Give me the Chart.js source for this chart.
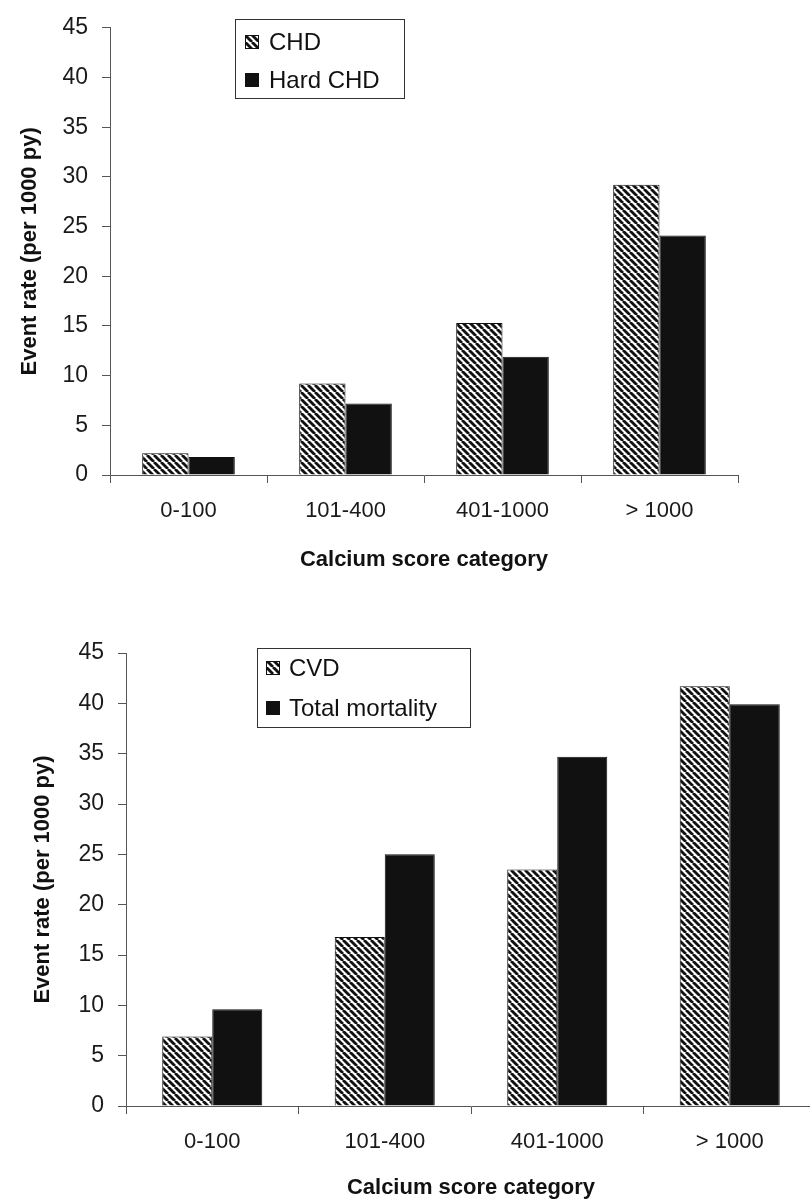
<!DOCTYPE html>
<html>
<head>
<meta charset="utf-8">
<title>Event rate by calcium score category</title>
<script src="https://cdn.jsdelivr.net/npm/chart.js@4.4.1/dist/chart.umd.min.js"></script>
<style>
  html, body { margin: 0; padding: 0; background: #fff; overflow: hidden; }
  #wrap { position: relative; width: 810px; height: 1201px; }
  #topChart { position: absolute; left: 0; top: 0; }
  #bottomChart { position: absolute; left: 0; top: 590px; }
</style>
</head>
<body>
<div id="wrap">
  <canvas id="topChart" width="810" height="590"></canvas>
  <canvas id="bottomChart" width="840" height="611"></canvas>
</div>
<script>
// values (events per 1000 person-years)
const categories = ['0-100', '101-400', '401-1000', '> 1000'];
const chdRates = [2.2, 9.2, 15.3, 29.2];
const hardChdRates = [1.8, 7.2, 11.9, 24.1];
const cvdRates = [6.9, 16.8, 23.5, 41.7];
const totalMortalityRates = [9.6, 25.0, 34.7, 39.9];
const yTicks = [0, 5, 10, 15, 20, 25, 30, 35, 40, 45];

const FONT = "'Liberation Sans', Arial, Helvetica, sans-serif";
Chart.defaults.font.family = FONT;

// diagonal hatch used for the first series of each panel
function makeHatch() {
    const c = document.createElement('canvas');
    c.width = 7;
    c.height = 7;
    const g = c.getContext('2d');
    g.fillStyle = '#fff';
    g.fillRect(0, 0, 7, 7);
    g.strokeStyle = '#111';
    g.lineWidth = 2.8;
    [-7, 0, 7].forEach(function(k) {
        g.beginPath();
        g.moveTo(k, 0);
        g.lineTo(k + 7, 7);
        g.stroke();
    });
    return g.createPattern(c, 'repeat');
}

// boxed legend drawn inside the plot, like the original figure
const boxLegend = {
    id: 'boxLegend',
    afterDraw(chart, args, opts) {
        const ctx = chart.ctx;
        ctx.save();
        ctx.strokeStyle = '#333';
        ctx.lineWidth = 1;
        ctx.strokeRect(opts.x + 0.5, opts.y + 0.5, opts.w, opts.h);
        ctx.font = '24px ' + FONT;
        ctx.textBaseline = 'middle';
        chart.data.datasets.forEach(function(ds, i) {
            const cy = opts.y + opts.firstRow + i * opts.rowGap;
            ctx.fillStyle = ds.backgroundColor;
            ctx.fillRect(opts.x + opts.swatchX, cy - 7, 14, 14);
            ctx.strokeStyle = '#111';
            ctx.strokeRect(opts.x + opts.swatchX + 0.5, cy - 6.5, 13, 13);
            ctx.fillStyle = '#111';
            ctx.fillText(ds.label, opts.x + opts.textX, cy + 1);
        });
        ctx.restore();
    }
};

function createPanel(canvasId, labels, seriesA, labelA, seriesB, labelB, geo) {
    const ctx = document.getElementById(canvasId);
    const hatch = makeHatch();
    return new Chart(ctx, {
        type: 'bar',
        data: {
            labels: labels,
            datasets: [{
                label: labelA,
                data: seriesA,
                backgroundColor: hatch,
                borderColor: '#111',
                borderWidth: 1,
                categoryPercentage: geo.catPct,
                barPercentage: 1
            }, {
                label: labelB,
                data: seriesB,
                backgroundColor: '#111',
                borderColor: '#111',
                borderWidth: 1,
                categoryPercentage: geo.catPct,
                barPercentage: 1
            }]
        },
        options: {
            responsive: false,
            animation: false,
            layout: {
                padding: { top: geo.top, right: geo.right, bottom: 0, left: 0 }
            },
            scales: {
                x: {
                    afterFit: function(scale) { scale.height = geo.xHeight; },
                    grid: {
                        offset: true,
                        drawOnChartArea: false,
                        drawTicks: true,
                        tickLength: 8,
                        color: '#555'
                    },
                    border: { display: true, color: '#555', width: 1 },
                    ticks: {
                        padding: 15,
                        color: '#1a1a1a',
                        font: { size: 22 }
                    },
                    title: {
                        display: true,
                        text: 'Calcium score category',
                        color: '#111',
                        font: { size: 22, weight: 'bold' },
                        padding: { top: 0, bottom: geo.xTitlePad }
                    }
                },
                y: {
                    min: 0,
                    max: 45,
                    afterFit: function(scale) { scale.width = geo.yWidth; },
                    afterBuildTicks: function(scale) {
                        scale.ticks = yTicks.map(function(v) { return { value: v }; });
                    },
                    grid: {
                        drawOnChartArea: false,
                        drawTicks: true,
                        tickLength: 8,
                        color: '#555'
                    },
                    border: { display: true, color: '#555', width: 1 },
                    ticks: {
                        padding: 14,
                        color: '#1a1a1a',
                        font: { size: 23 }
                    },
                    title: {
                        display: true,
                        text: 'Event rate (per 1000 py)',
                        color: '#111',
                        font: { size: 22, weight: 'bold' },
                        padding: { top: geo.yTitlePad, bottom: 0 }
                    }
                }
            },
            plugins: {
                legend: { display: false },
                tooltip: { enabled: false },
                boxLegend: geo.legend
            }
        },
        plugins: [boxLegend]
    });
}

createPanel('topChart', categories, chdRates, 'CHD', hardChdRates, 'Hard CHD', {
    top: 25, right: 72, xHeight: 115, yWidth: 110,
    catPct: 0.59, xTitlePad: 17, yTitlePad: 17,
    legend: { x: 235, y: 19, w: 169, h: 79, firstRow: 23, rowGap: 38, swatchX: 10, textX: 34 }
});

createPanel('bottomChart', categories, cvdRates, 'CVD', totalMortalityRates, 'Total mortality', {
    top: 63, right: 24, xHeight: 95, yWidth: 126,
    catPct: 0.58, xTitlePad: 0, yTitlePad: 30,
    legend: { x: 257, y: 58, w: 213, h: 79, firstRow: 20, rowGap: 40, swatchX: 9, textX: 32 }
});
</script>
</body>
</html>
